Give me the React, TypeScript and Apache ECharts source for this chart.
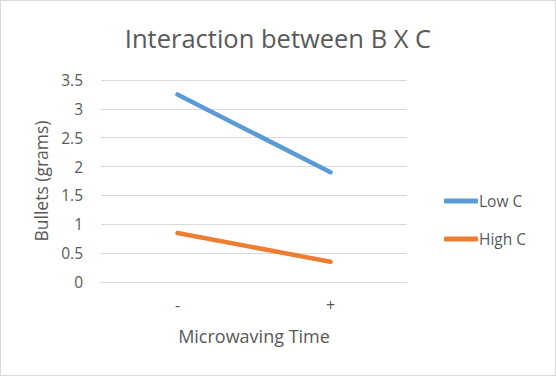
import React, { useEffect, useRef } from "react";
import * as echarts from "echarts";

const categories = ["-", "+"];
const lowC = [3.25, 1.9];
const highC = [0.85, 0.35];
const seriesNames = ["Low C", "High C"];

export default function App() {
  const ref = useRef<HTMLDivElement>(null);
  useEffect(() => {
    if (!ref.current) return;
    const chart = echarts.init(ref.current, null, { renderer: "svg" });
    const font = "Open Sans, sans-serif";
    chart.setOption({
      animation: false,
      backgroundColor: "#fff",
      title: {
        text: "Interaction between B X C",
        left: "center",
        top: 19,
        textStyle: { fontFamily: font, fontSize: 25.5, fontWeight: "normal", color: "#595959" },
      },
      legend: {
        orient: "vertical",
        left: 438,
        top: 187,
        icon: "roundRect",
        itemWidth: 34,
        itemHeight: 5,
        itemGap: 22,
        data: seriesNames,
        textStyle: { fontFamily: font, fontSize: 15.5, color: "#595959", padding: [0, 0, 0, -4] },
      },
      grid: { left: 100, right: 148, top: 79, bottom: 93 },
      xAxis: {
        type: "category",
        data: categories,
        boundaryGap: true,
        axisLine: { show: true, lineStyle: { color: "#d9d9d9" } },
        axisTick: { show: false },
        axisLabel: { fontFamily: font, fontSize: 16, color: "#595959", margin: 15 },
        name: "Microwaving Time",
        nameLocation: "middle",
        nameGap: 45,
        nameTextStyle: { fontFamily: font, fontSize: 18, color: "#595959" },
      },
      yAxis: {
        type: "value",
        min: 0,
        max: 3.5,
        interval: 0.5,
        axisLine: { show: false },
        axisTick: { show: false },
        splitLine: { lineStyle: { color: "#d9d9d9", width: 1 } },
        axisLabel: { fontFamily: font, fontSize: 15.5, color: "#595959", margin: 18 },
        name: "Bullets (grams)",
        nameLocation: "middle",
        nameGap: 50,
        nameRotate: 90,
        nameTextStyle: { fontFamily: font, fontSize: 17.5, color: "#595959" },
      },
      series: [
        {
          name: seriesNames[0],
          type: "line",
          data: lowC,
          symbol: "none",
          lineStyle: { color: "#5B9BD5", width: 4.5, cap: "round" },
          itemStyle: { color: "#5B9BD5" },
        },
        {
          name: seriesNames[1],
          type: "line",
          data: highC,
          symbol: "none",
          lineStyle: { color: "#ED7D31", width: 4.5, cap: "round" },
          itemStyle: { color: "#ED7D31" },
        },
      ],
    });
    return () => chart.dispose();
  }, []);
  return (
    <div
      style={{
        position: "fixed",
        left: 0,
        top: 0,
        width: 556,
        height: 376,
        boxSizing: "border-box",
        border: "1px solid #d9d9d9",
        background: "#fff",
      }}
    >
      <div ref={ref} style={{ width: 554, height: 374 }} />
    </div>
  );
}
